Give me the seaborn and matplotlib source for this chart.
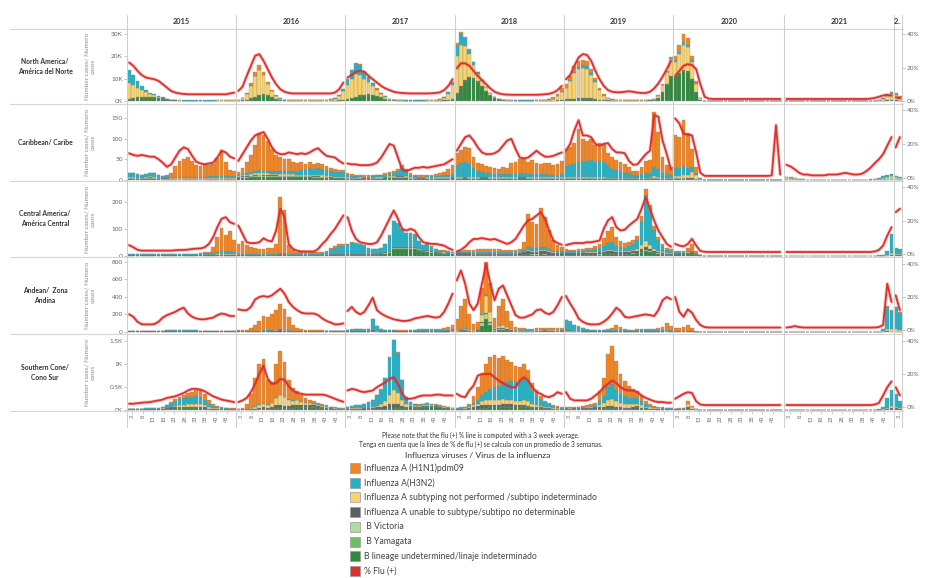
import numpy as np
import pandas as pd
import matplotlib
matplotlib.use("Agg")
import matplotlib.pyplot as plt
from matplotlib.lines import Line2D
from matplotlib.patches import Rectangle
import seaborn as sns

sns.set_style("white")
plt.rcParams["font.family"] = ["Lato", "DejaVu Sans"]

# ---------------------------------------------------------------- data
YEARS = [2015, 2016, 2017, 2018, 2019, 2020, 2021, 2022]
YEAR_LABELS = ["2015", "2016", "2017", "2018", "2019", "2020", "2021", "2.."]
WEEKS_IN_YEAR = [52, 52, 52, 52, 52, 53, 52, 4]
WEEK_TICKS = [3, 8, 13, 18, 23, 28, 33, 38, 43, 48]
WEEK_TICKS_2022 = [3]
# values are 2-week bins (weeks 1-2, 3-4, ... 51-52)

CATEGORIES = [
    "Influenza A (H1N1)pdm09",
    "Influenza A(H3N2)",
    "Influenza A subtyping not performed /subtipo indeterminado",
    "Influenza A unable to subtype/subtipo no determinable",
    " B Victoria",
    " B Yamagata",
    "B lineage undetermined/linaje indeterminado",
]
CAT_KEYS = ["h1", "h3", "ans", "aun", "bvic", "byam", "bund"]

# North America (thousands)
NA_H1N1 = {
    2016: [0, .1, .4, 1, 1.8, 2, 1.5, .8, .4, .2, .1, 0, 0,
           0, 0, 0, 0, 0, 0, 0, 0, 0, 0, 0, 0, 0],
    2017: [.2, .3, .3, .3, .2, .2, .1, .1, 0, 0, 0, 0, 0,
           0, 0, 0, 0, 0, 0, 0, 0, 0, 0, 0, 0, 0],
    2018: [1, .8, .5, .3, .2, .1, .1, 0, 0, 0, 0, 0, 0,
           0, 0, 0, 0, 0, 0, 0, 0, .1, .2, .5, .8, 1.5],
    2019: [1.5, 2, 2.3, 2.5, 2.3, 2, 1.5, 1, .6, .3, .15, .1, .05,
           0, 0, 0, 0, 0, 0, 0, 0, .1, .2, .3, .5, .8],
    2020: [2, 3, 3.5, 3, 2, 1, .2, 0, 0, 0, 0, 0, 0,
           0, 0, 0, 0, 0, 0, 0, 0, 0, 0, 0, 0, 0],
    2021: [0, 0, 0, 0, 0, 0, 0, 0, 0, 0, 0, 0, 0,
           0, 0, 0, 0, 0, 0, 0, 0, 0, 0, .1, .2, .3],
    2022: [.3, .2],
}
NA_H3N2 = {
    2015: [5.5, 4.2, 3, 1.8, 1, .5, .3, .2, .1, .1, .05, .05, .05,
           .05, .05, .05, .05, .05, .05, .05, .05, .05, .05, .05, .1, .1],
    2016: [.05, .1, .2, .3, .3, .3, .2, .1, .05, .05, .05, .05, .05,
           .05, .05, .05, .05, .05, .05, .05, .05, .05, .1, .2, .4, .8],
    2017: [2.5, 3.8, 4.5, 4.5, 3, 2, 1.2, .7, .4, .2, .1, .05, .05,
           .05, .05, .05, .05, .05, .05, .05, .05, .1, .2, .4, .8, 1.5],
    2018: [5, 5, 3.5, 2, 1, .6, .4, .3, .2, .1, .05, .05, .05,
           .05, .05, .05, .05, .05, .05, .05, .05, .05, .1, .1, .2, .3],
    2019: [.2, .3, .5, .8, 1, 1.2, 1, .8, .5, .3, .15, .1, .05,
           0, 0, 0, 0, 0, 0, 0, 0, 0, 0, .05, .05, .1],
    2020: [.8, 1, 1.2, 1, .7, .3, .1, 0, 0, 0, 0, 0, 0,
           0, 0, 0, 0, 0, 0, 0, 0, 0, 0, 0, 0, 0],
    2021: [0, 0, 0, 0, 0, 0, 0, 0, 0, 0, 0, 0, 0,
           0, 0, 0, 0, 0, 0, 0, 0, .05, .1, .2, .4, .6],
    2022: [.6, .4],
}
NA_ANS = {
    2015: [7, 5.8, 4.4, 3, 2, 1.3, .9, .5, .3, .2, .1, .1, .05,
           .05, .05, .05, .05, .05, .05, .05, .05, .1, .1, .15, .2, .3],
    2016: [.4, 1, 2.3, 5.5, 9, 11, 8.5, 5, 2.8, 1.3, .6, .3, .2,
           .15, .1, .1, .1, .1, .1, .1, .15, .2, .4, .8, 1.8, 3.8],
    2017: [6, 8.5, 10, 9, 7, 5.5, 4, 2.5, 1.5, .8, .4, .2, .1,
           .1, .05, .05, .05, .05, .05, .1, .1, .2, .4, 1, 2.5, 6],
    2018: [16.5, 18.5, 15, 10, 6, 3.5, 2.4, 1.5, .8, .4, .25, .15, .1,
           .1, .05, .05, .05, .05, .05, .1, .1, .2, .4, .8, 1.8, 3.5],
    2019: [5, 8, 11.5, 13, 13.5, 13, 10.5, 7.5, 4.2, 2, .9, .4, .2,
           .1, .1, .1, .1, .1, .1, .1, .2, .4, 1, 3, 5, 7.5],
    2020: [6, 8.5, 11, 10.5, 7.5, 3.5, .6, .1, 0, 0, 0, 0, 0,
           0, 0, 0, 0, 0, 0, 0, 0, 0, 0, 0, 0, 0],
    2021: [0, 0, 0, 0, 0, 0, 0, 0, 0, 0, 0, 0, 0,
           0, 0, 0, 0, 0, 0, 0, 0, .1, .3, .9, 2, 2.8],
    2022: [2.4, 1.3],
}
NA_AUN = {
    2015: [.5, .5, .4, .4, .3, .3, .3, .2, .2, .15, .1, .1, .1,
           .1, .1, .1, .1, .1, .1, .1, .1, .1, .1, .1, .1, .1],
    2016: [.1, .1, .1, .15, .2, .2, .2, .15, .1, .1, .1, .1, .1,
           .1, .1, .1, .1, .1, .1, .1, .1, .1, .1, .1, .1, .15],
    2017: [.2, .2, .2, .2, .2, .15, .15, .1, .1, .1, .1, .1, .1,
           .1, .1, .1, .1, .1, .1, .1, .1, .1, .1, .1, .15, .2],
    2018: [.5, .5, .4, .3, .2, .2, .1, .1, .1, .1, .1, .1, .1,
           .1, .1, .1, .1, .1, .1, .1, .1, .1, .1, .1, .1, .15],
    2019: [.3, .3, .3, .3, .3, .3, .2, .2, .1, .1, .1, .1, .1,
           .1, .1, .1, .1, .1, .1, .1, .1, .1, .1, .1, .2, .3],
    2020: [.3, .4, .5, .5, .4, .2, .05, 0, 0, 0, 0, 0, 0,
           0, 0, 0, 0, 0, 0, 0, 0, 0, 0, 0, 0, 0],
    2021: [0, 0, 0, 0, 0, 0, 0, 0, 0, 0, 0, 0, 0,
           0, 0, 0, 0, 0, 0, 0, 0, 0, .05, .05, .1, .1],
    2022: [.1, .1],
}
NA_BUND = {
    2015: [.6, .9, 1.2, 1.4, 1.5, 1.6, 1.5, 1.3, 1, .6, .4, .2, .1,
           .05, .05, .05, .05, .05, .05, .05, .05, .05, .05, .05, .1, .1],
    2016: [.1, .2, .5, 1.1, 1.8, 2.5, 2.7, 2.5, 1.7, .9, .4, .2, .1,
           .05, .05, .05, .05, .05, .05, .05, .05, .05, .1, .1, .2, .4],
    2017: [.8, 1.2, 1.8, 2.3, 2.6, 2.8, 2.6, 2.2, 1.6, 1, .5, .3, .1,
           .05, .05, .05, .05, .05, .05, .05, .05, .1, .1, .2, .4, .8],
    2018: [3, 6, 9, 10.5, 10, 8.5, 6.5, 4.5, 2.6, 1.3, .6, .3, .1,
           .05, .05, .05, .05, .05, .05, .05, .05, .05, .1, .1, .2, .3],
    2019: [.4, .6, .8, 1, 1, 1.1, 1, .8, .5, .3, .2, .1, .05,
           .05, .05, .05, .05, .05, .05, .1, .2, .5, 1.2, 4, 7.5, 11],
    2020: [11, 12, 13.5, 13, 9.5, 4, .6, .1, 0, 0, 0, 0, 0,
           0, 0, 0, 0, 0, 0, 0, 0, 0, 0, 0, 0, 0],
    2021: [0, 0, 0, 0, 0, 0, 0, 0, 0, 0, 0, 0, 0,
           0, 0, 0, 0, 0, 0, 0, 0, .05, .1, .1, .2, .3],
    2022: [.2, .1],
}
NA_PCT = {
    2015: [23, 21, 18, 15.5, 14, 13.5, 13, 12, 10, 8, 6, 5, 4.5,
           4.2, 4, 4, 4, 4, 4, 4, 4, 4, 4, 4, 4.5, 5],
    2016: [6, 8.5, 15, 21, 27, 28, 24, 19, 14, 10, 7, 5.5, 4.8,
           4.5, 4.5, 4.5, 4.5, 4.5, 4.5, 4.5, 4.5, 4.5, 4.5, 5, 7, 11],
    2017: [14, 15.5, 17.5, 18, 17.5, 15, 13, 11, 9, 7.5, 6.5, 5.5, 5,
           4.8, 4.6, 4.5, 4.5, 4.5, 4.5, 4.5, 4.6, 4.8, 5.2, 6.5, 9, 13],
    2018: [19.5, 22.5, 22.5, 21, 18, 15, 12.5, 10, 7.5, 5.5, 4.5, 4, 3.8,
           3.7, 3.7, 3.7, 3.7, 3.7, 3.7, 3.7, 3.8, 4, 4.3, 5, 6.5, 9],
    2019: [13, 15.5, 21, 26, 28, 27.5, 24, 18, 13, 9, 6.5, 5.5, 5.2,
           5.2, 5.5, 5.8, 5.5, 5, 4.8, 4.8, 5.5, 7.5, 10.5, 14.5, 19, 24],
    2020: [15, 18, 21, 22, 21.5, 19, 10, 2.5, 1.4, 1.2, 1.2, 1.2, 1.2,
           1.2, 1.2, 1.2, 1.2, 1.2, 1.2, 1.2, 1.2, 1.2, 1.2, 1.2, 1.2, 1.2],
    2021: [1.2, 1.2, 1.2, 1.2, 1.2, 1.2, 1.2, 1.2, 1.2, 1.2, 1.2, 1.2, 1.2,
           1.2, 1.2, 1.2, 1.2, 1.2, 1.2, 1.2, 1.4, 1.8, 2.5, 3.3, 3.6, 3.2],
    2022: [2.2, 1.6],
}

# Caribbean
CAR_H1N1 = {
    2015: [0, 0, 0, 0, 0, 0, 0, 0, 0, 2, 8, 25, 38,
           45, 48, 40, 30, 28, 30, 28, 30, 45, 65, 35, 15, 12],
    2016: [8, 15, 28, 40, 62, 90, 88, 72, 55, 40, 35, 30, 28,
           22, 20, 20, 15, 15, 12, 12, 10, 10, 8, 8, 6, 5],
    2017: [5, 5, 4, 3, 3, 3, 2, 2, 2, 3, 3, 4, 4,
           5, 5, 4, 3, 3, 3, 3, 4, 5, 6, 8, 14, 22],
    2018: [28, 32, 38, 40, 26, 20, 18, 17, 16, 14, 12, 16, 15,
           26, 30, 35, 33, 30, 33, 27, 25, 28, 28, 23, 26, 32],
    2019: [42, 44, 50, 82, 55, 48, 50, 40, 43, 43, 29, 27, 24,
           24, 22, 15, 10, 10, 17, 30, 33, 135, 88, 38, 23, 19],
    2020: [80, 75, 110, 85, 45, 15, 2, 0, 0, 0, 0, 0, 0,
           0, 0, 0, 0, 0, 0, 0, 0, 0, 0, 0, 0, 0],
}
CAR_H3N2 = {
    2015: [10, 9, 8, 7, 8, 9, 8, 6, 5, 5, 4, 4, 4,
           3, 3, 3, 3, 3, 4, 5, 5, 5, 5, 5, 6, 6],
    2016: [3, 3, 4, 5, 6, 7, 6, 6, 6, 7, 7, 8, 8,
           9, 9, 12, 13, 17, 16, 18, 17, 15, 13, 12, 11, 12],
    2017: [4, 4, 3, 3, 3, 3, 3, 4, 4, 5, 7, 8, 12,
           22, 12, 5, 4, 3, 3, 3, 3, 3, 3, 4, 5, 6],
    2018: [30, 35, 35, 32, 22, 15, 12, 10, 9, 8, 7, 8, 7,
           8, 8, 9, 9, 8, 8, 7, 7, 7, 6, 6, 6, 7],
    2019: [25, 28, 32, 35, 38, 40, 42, 38, 40, 38, 30, 22, 18,
           15, 12, 10, 7, 7, 8, 10, 10, 22, 20, 12, 8, 7],
    2020: [20, 20, 22, 18, 12, 5, 1, 0, 0, 0, 0, 0, 0,
           0, 0, 0, 0, 0, 0, 0, 0, 0, 0, 0, 0, 0],
    2021: [1, 1, 1, 0, 0, 0, 0, 0, 0, 0, 0, 0, 0,
           0, 0, 0, 0, 0, 0, 0, 1, 1, 2, 3, 4, 5],
    2022: [3, 3],
}
CAR_ANS = {
    2015: [1, 1, 1, 1, 1, 2, 2, 1, 1, 1, 1, 1, 1,
           1, 1, 1, 1, 1, 1, 1, 1, 1, 1, 1, 1, 1],
    2016: [2, 3, 4, 5, 6, 6, 5, 6, 4, 4, 4, 4, 4,
           4, 3, 3, 2, 3, 3, 3, 3, 2, 2, 2, 2, 2],
    2017: [1, 1, 1, 1, 1, 1, 1, 1, 1, 1, 1, 1, 1,
           1, 1, 1, 1, 1, 1, 1, 1, 1, 1, 1, 1, 1],
    2018: [1, 1, 1, 1, 1, 1, 1, 1, 1, 1, 1, 1, 1,
           1, 1, 1, 1, 1, 1, 1, 1, 1, 1, 1, 1, 1],
    2019: [2, 2, 2, 2, 2, 1, 1, 1, 1, 1, 1, 1, 1,
           1, 1, 1, 1, 1, 1, 1, 1, 3, 2, 1, 1, 1],
    2020: [5, 5, 8, 8, 15, 8, 1, 0, 0, 0, 0, 0, 0,
           0, 0, 0, 0, 0, 0, 0, 0, 0, 0, 0, 0, 0],
}
CAR_AUN = {
    2015: [1, 1, 1, 1, 1, 1, 1, 1, 1, 1, 1, 1, 1,
           1, 1, 1, 1, 1, 1, 1, 1, 1, 1, 1, 1, 1],
    2016: [1, 1, 1, 1, 1, 1, 1, 1, 1, 1, 1, 1, 1,
           1, 1, 1, 1, 1, 1, 1, 1, 1, 1, 1, 1, 1],
    2017: [1, 1, 1, 1, 1, 1, 1, 1, 1, 1, 1, 1, 1,
           1, 1, 1, 1, 1, 1, 1, 1, 1, 1, 1, 1, 1],
    2018: [1, 1, 1, 1, 1, 1, 1, 1, 1, 1, 1, 1, 1,
           1, 1, 1, 1, 1, 1, 1, 1, 1, 1, 1, 1, 1],
    2019: [1, 1, 1, 1, 1, 1, 1, 1, 1, 1, 1, 1, 1,
           1, 1, 1, 1, 1, 1, 1, 1, 1, 1, 1, 1, 1],
    2020: [1, 1, 1, 1, 1, 1, 0, 0, 0, 0, 0, 0, 0,
           0, 0, 0, 0, 0, 0, 0, 0, 0, 0, 0, 0, 0],
}
CAR_BVIC = {
    2015: [3, 3, 2, 2, 3, 4, 3, 2, 2, 2, 1, 1, 1,
           1, 1, 1, 1, 1, 1, 1, 1, 1, 1, 1, 1, 1],
    2016: [1, 2, 2, 2, 2, 3, 2, 2, 2, 2, 2, 2, 2,
           2, 2, 2, 2, 2, 2, 2, 2, 2, 1, 1, 1, 1],
    2017: [2, 1, 1, 2, 1, 1, 2, 2, 2, 2, 3, 3, 4,
           4, 3, 2, 2, 1, 1, 2, 1, 2, 2, 2, 2, 2],
    2018: [2, 2, 2, 2, 2, 2, 2, 2, 2, 2, 2, 2, 2,
           2, 2, 2, 2, 2, 2, 2, 2, 2, 2, 2, 2, 2],
    2019: [2, 2, 2, 2, 2, 2, 2, 2, 2, 2, 2, 2, 2,
           2, 2, 2, 2, 2, 2, 2, 2, 2, 2, 2, 2, 2],
    2020: [1, 1, 1, 1, 1, 1, 1, 0, 1, 0, 0, 1, 0,
           0, 1, 0, 0, 0, 1, 0, 0, 0, 1, 0, 0, 0],
    2021: [6, 5, 4, 3, 2, 1, 1, 1, 1, 1, 1, 1, 1,
           1, 1, 1, 1, 1, 1, 1, 1, 2, 3, 5, 7, 8],
    2022: [6, 4],
}
CAR_BUND = {
    2015: [2, 2, 2, 2, 2, 2, 2, 2, 1, 1, 1, 1, 1,
           1, 1, 1, 1, 1, 1, 1, 1, 1, 1, 1, 1, 1],
    2016: [5, 6, 6, 7, 8, 8, 8, 8, 8, 8, 7, 7, 7,
           7, 7, 7, 7, 7, 6, 6, 5, 5, 5, 4, 4, 4],
    2017: [3, 3, 3, 3, 2, 2, 2, 3, 3, 4, 4, 4, 4,
           4, 4, 3, 2, 2, 2, 3, 3, 3, 3, 3, 3, 4],
    2018: [3, 3, 4, 3, 3, 3, 4, 4, 3, 3, 3, 3, 3,
           3, 3, 4, 4, 3, 3, 3, 3, 3, 3, 3, 3, 3],
    2019: [3, 3, 3, 3, 3, 3, 3, 3, 3, 3, 2, 2, 2,
           2, 2, 2, 2, 2, 2, 2, 2, 3, 3, 2, 2, 2],
    2020: [3, 3, 3, 2, 2, 1, 1, 0, 0, 0, 0, 0, 0,
           0, 0, 0, 0, 0, 0, 0, 0, 0, 0, 0, 0, 0],
    2021: [1, 1, 1, 0, 0, 0, 0, 0, 0, 0, 0, 0, 0,
           0, 0, 0, 0, 0, 0, 0, 0, 0, 0, 1, 1, 1],
    2022: [1, 1],
}
CAR_PCT = {
    2015: [14.5, 13.5, 13, 13.5, 13, 12.5, 12.5, 11, 9, 6.5, 8, 12, 16,
           18, 17, 13, 9.5, 8.5, 8, 8.5, 9, 12, 16, 15, 12.5, 11.5],
    2016: [10, 14, 18, 22, 25, 26, 27, 23, 18, 15, 14, 14, 15,
           14.5, 14, 14.5, 14, 15, 16.5, 17.5, 15, 13, 12.5, 12, 10, 8.5],
    2017: [8.5, 8, 8, 7.5, 7.5, 7.5, 8, 9, 12, 16, 20, 19, 12,
           5, 4, 5, 6, 6, 6.5, 6, 6.5, 7, 7.5, 8, 9.5, 11],
    2018: [16, 20, 24, 25, 22, 18, 15, 14, 14, 14.5, 16, 19, 22,
           23, 17, 12, 11.5, 12, 14, 16, 14, 12.5, 12.5, 13, 14, 15],
    2019: [16, 20, 28, 34, 25, 25, 24, 20, 19, 20, 20.5, 17, 15,
           15, 14.5, 10, 7.7, 8, 11, 14, 16, 37, 36, 22, 14, 5],
    2020: [35, 32, 26, 25.5, 25, 15, 3, 1.2, 1.2, 1.2, 1.2, 1.2, 1.2,
           1.2, 1.2, 1.2, 1.2, 1.2, 1.2, 1.2, 1.2, 1.2, 1.2, 1.5, 31, 2],
    2021: [7.7, 6.7, 5, 3, 2, 2, 1.5, 1.5, 1.5, 1.5, 2, 2, 2,
           2.5, 3, 2.5, 2, 2, 2.5, 4, 6, 8.6, 11, 14, 19, 24],
    2022: [18, 24],
}

# Central America
CEN_H1N1 = {
    2015: [0, 0, 0, 0, 0, 0, 0, 0, 0, 0, 0, 0, 0,
           0, 0, 0, 0, 0, 2, 5, 20, 55, 85, 62, 75, 45],
    2016: [38, 48, 33, 28, 24, 20, 20, 22, 24, 38, 205, 160, 33,
           14, 8, 6, 5, 5, 5, 5, 5, 5, 6, 6, 7, 8],
    2017: [3, 2, 2, 2, 2, 1, 1, 1, 2, 2, 2, 2, 2,
           2, 2, 2, 2, 1, 1, 1, 1, 1, 1, 1, 1, 1],
    2018: [5, 5, 6, 8, 10, 12, 14, 12, 12, 12, 12, 10, 10,
           10, 10, 12, 30, 120, 95, 90, 145, 110, 70, 40, 22, 18],
    2019: [5, 4, 4, 5, 5, 6, 7, 10, 15, 27, 45, 55, 33,
           22, 18, 16, 15, 15, 20, 25, 20, 14, 10, 8, 6, 5],
    2020: [5, 4, 5, 12, 25, 10, 2, 0, 0, 0, 0, 0, 0,
           0, 0, 0, 0, 0, 0, 0, 0, 0, 0, 0, 0, 0],
}
CEN_H3N2 = {
    2015: [4, 4, 4, 4, 3, 3, 3, 3, 3, 4, 4, 4, 5,
           5, 5, 6, 6, 7, 7, 7, 7, 10, 12, 10, 12, 10],
    2016: [3, 3, 3, 3, 3, 2, 2, 2, 2, 3, 4, 4, 3,
           3, 3, 3, 3, 3, 3, 4, 6, 10, 18, 23, 30, 30],
    2017: [35, 40, 38, 35, 30, 22, 17, 16, 18, 30, 55, 95, 85,
           65, 50, 50, 45, 30, 22, 22, 15, 10, 8, 7, 6, 5],
    2018: [5, 5, 5, 5, 4, 4, 4, 4, 4, 4, 4, 4, 4,
           4, 4, 5, 8, 12, 10, 10, 10, 10, 8, 6, 5, 5],
    2019: [8, 7, 7, 8, 8, 9, 10, 12, 15, 20, 25, 30, 20,
           16, 14, 16, 22, 35, 90, 170, 130, 70, 40, 22, 14, 10],
    2020: [3, 2, 3, 3, 3, 2, 0, 0, 0, 0, 0, 0, 0,
           0, 0, 0, 0, 0, 0, 0, 0, 0, 0, 0, 0, 0],
    2021: [0, 0, 0, 0, 0, 0, 0, 0, 0, 0, 0, 0, 0,
           0, 0, 0, 0, 0, 0, 0, 0, 0, 1, 4, 16, 70],
    2022: [22, 18],
}
CEN_ANS = {
    2015: [0, 0, 0, 0, 0, 0, 0, 0, 0, 0, 0, 0, 0,
           0, 0, 0, 0, 0, 1, 1, 2, 2, 2, 2, 2, 2],
    2016: [1, 1, 1, 1, 1, 1, 1, 1, 1, 1, 2, 2, 1,
           1, 1, 1, 1, 1, 1, 1, 1, 1, 1, 1, 1, 1],
    2017: [1, 1, 1, 1, 1, 1, 1, 1, 1, 1, 1, 1, 1,
           1, 1, 1, 1, 1, 1, 1, 1, 1, 1, 1, 1, 1],
    2018: [0, 0, 0, 0, 0, 0, 0, 0, 0, 0, 0, 0, 0,
           0, 0, 0, 2, 4, 4, 3, 5, 5, 4, 3, 2, 2],
    2019: [1, 1, 1, 1, 1, 1, 1, 2, 2, 3, 4, 4, 3,
           3, 3, 4, 5, 8, 15, 20, 15, 8, 5, 3, 2, 2],
    2020: [2, 2, 2, 3, 2, 1, 1, 0, 0, 0, 0, 0, 0,
           0, 0, 0, 0, 0, 0, 0, 0, 0, 0, 0, 0, 0],
    2021: [0, 0, 0, 0, 0, 0, 0, 0, 0, 0, 0, 0, 0,
           0, 0, 0, 0, 0, 0, 0, 0, 0, 1, 1, 3, 8],
    2022: [6, 5],
}
CEN_AUN = {
    2015: [3, 3, 2, 2, 2, 2, 2, 2, 2, 2, 2, 2, 2,
           2, 2, 2, 2, 2, 2, 2, 2, 3, 4, 4, 4, 3],
    2016: [2, 2, 2, 2, 2, 2, 2, 2, 2, 2, 3, 3, 2,
           2, 2, 2, 2, 2, 2, 2, 2, 2, 3, 3, 3, 3],
    2017: [3, 3, 3, 3, 3, 3, 3, 3, 3, 3, 4, 5, 5,
           5, 5, 5, 5, 4, 3, 4, 4, 3, 2, 2, 2, 2],
    2018: [6, 6, 6, 6, 5, 5, 5, 5, 5, 5, 5, 5, 5,
           5, 5, 6, 8, 12, 10, 10, 12, 12, 8, 6, 5, 5],
    2019: [6, 6, 6, 6, 6, 7, 7, 7, 7, 8, 10, 9, 7,
           7, 6, 7, 8, 6, 9, 12, 8, 6, 5, 5, 4, 4],
    2020: [4, 4, 4, 5, 5, 3, 1, 0, 0, 0, 0, 0, 0,
           0, 0, 0, 0, 0, 0, 0, 0, 0, 0, 0, 0, 0],
}
CEN_BVIC = {
    2017: [1, 1, 1, 1, 1, 1, 1, 1, 1, 2, 2, 3, 3,
           3, 3, 3, 3, 2, 1, 3, 3, 1, 1, 2, 2, 1],
    2018: [1, 1, 1, 1, 1, 1, 1, 1, 1, 1, 1, 1, 1,
           1, 1, 1, 1, 1, 1, 1, 1, 1, 1, 1, 1, 1],
    2019: [2, 1, 1, 2, 2, 2, 2, 1, 1, 1, 1, 1, 1,
           1, 2, 2, 2, 1, 1, 3, 2, 2, 2, 1, 0, 1],
}
CEN_BUND = {
    2015: [1, 1, 1, 1, 1, 1, 1, 1, 1, 1, 1, 1, 1,
           1, 1, 1, 1, 1, 1, 1, 1, 1, 1, 1, 1, 1],
    2016: [1, 1, 1, 1, 1, 1, 1, 2, 2, 2, 3, 3, 2,
           2, 2, 2, 2, 2, 2, 2, 2, 2, 3, 3, 4, 4],
    2017: [3, 4, 4, 4, 4, 3, 3, 4, 6, 8, 12, 25, 25,
           25, 25, 25, 25, 18, 13, 15, 12, 10, 8, 8, 7, 6],
    2018: [3, 3, 3, 3, 3, 3, 3, 3, 3, 3, 3, 3, 3,
           3, 3, 3, 4, 6, 5, 5, 6, 5, 4, 4, 4, 4],
    2019: [3, 3, 3, 3, 3, 3, 3, 4, 5, 6, 8, 8, 6,
           6, 6, 7, 8, 10, 15, 20, 15, 10, 8, 6, 4, 3],
    2020: [6, 6, 6, 7, 8, 4, 1, 0, 0, 0, 0, 0, 0,
           0, 0, 0, 0, 0, 0, 0, 0, 0, 0, 0, 0, 0],
    2021: [0, 0, 0, 0, 0, 0, 0, 0, 0, 0, 0, 0, 0,
           0, 0, 0, 0, 0, 0, 0, 0, 0, 0, 0, 1, 2],
    2022: [2, 2],
}
CEN_PCT = {
    2015: [5.3, 4, 2.5, 2, 2, 2, 2, 2, 2, 2, 2, 2.2, 2.4,
           2.4, 2.6, 3, 3.2, 3.3, 4, 6, 10, 16, 21, 22, 19, 18],
    2016: [17, 12, 7, 6.5, 6.5, 7, 9.4, 8, 7.5, 14, 27, 22, 6,
           3, 2, 1.5, 1.5, 1.5, 1.5, 3, 6, 8.5, 12, 15, 19, 23],
    2017: [22, 14, 9, 7, 6.5, 6, 6, 7, 11, 16, 21, 26, 21,
           15, 14, 15, 14, 10, 7, 6.5, 6, 6, 5.5, 5, 3.5, 2.4],
    2018: [1.5, 2.5, 4.3, 7, 9, 9, 9.5, 9, 8.5, 9, 8, 7, 6,
           7, 9, 13, 17, 20, 21, 23, 25, 21, 14, 8, 6.5, 5.5],
    2019: [5.3, 6, 6.5, 6.5, 6.5, 7, 7, 7.5, 8, 15, 20, 22, 16,
           14, 14.5, 17, 19, 21, 27, 34, 27, 20, 14, 10, 6, 4.3],
    2020: [6, 5, 4.5, 6, 9, 5, 1.8, 1.3, 1.2, 1.2, 1.2, 1.2, 1.2,
           1.2, 1.2, 1.2, 1.2, 1.2, 1.2, 1.2, 1.2, 1.2, 1.2, 1.2, 1.2, 1.2],
    2021: [1.2, 1.2, 1.2, 1.2, 1.2, 1.2, 1.2, 1.2, 1.2, 1.2, 1.2, 1.2, 1.2,
           1.2, 1.2, 1.2, 1.2, 1.2, 1.2, 1.2, 1.2, 1.5, 2.4, 5, 11, 16],
    2022: [25, 27],
}

# Andean
AND_H1N1 = {
    2015: [1, 1, 1, 1, 1, 1, 1, 1, 1, 1, 1, 1, 1,
           1, 1, 1, 1, 1, 1, 1, 1, 1, 1, 1, 1, 1],
    2016: [8, 10, 14, 28, 68, 105, 160, 150, 178, 225, 290, 235, 150,
           65, 28, 18, 12, 8, 7, 6, 5, 4, 4, 4, 4, 4],
    2017: [2, 2, 3, 3, 2, 2, 5, 3, 3, 2, 2, 2, 2,
           2, 3, 4, 5, 6, 8, 8, 6, 6, 9, 13, 28, 48],
    2018: [130, 270, 340, 175, 70, 80, 300, 380, 330, 110, 230, 300, 180,
           85, 35, 25, 20, 15, 15, 18, 20, 22, 20, 18, 18, 20],
    2019: [5, 5, 5, 5, 4, 3, 3, 3, 5, 5, 10, 22, 55,
           38, 16, 10, 8, 10, 14, 14, 12, 12, 22, 40, 75, 45],
    2020: [25, 35, 45, 65, 30, 5, 0, 0, 0, 0, 0, 0, 0,
           0, 0, 0, 0, 0, 0, 0, 0, 0, 0, 0, 0, 0],
    2021: [0, 0, 0, 0, 0, 0, 0, 0, 0, 0, 0, 0, 0,
           0, 0, 0, 0, 0, 0, 0, 0, 0, 0, 2, 12, 10],
    2022: [10, 8],
}
AND_H3N2 = {
    2015: [5, 5, 4, 4, 4, 5, 5, 6, 8, 10, 12, 14, 15,
           14, 13, 12, 10, 8, 7, 6, 6, 7, 7, 6, 6, 5],
    2016: [4, 4, 4, 4, 4, 5, 6, 6, 6, 7, 8, 7, 6,
           5, 4, 4, 4, 4, 4, 5, 5, 4, 4, 4, 4, 4],
    2017: [12, 15, 18, 18, 15, 20, 120, 50, 20, 12, 10, 8, 6,
           6, 6, 7, 8, 10, 12, 12, 10, 10, 10, 10, 10, 12],
    2018: [2, 2, 4, 2, 2, 2, 5, 5, 3, 4, 5, 5, 4,
           4, 5, 3, 4, 4, 4, 4, 4, 5, 4, 3, 3, 4],
    2019: [115, 95, 60, 45, 28, 15, 10, 8, 8, 8, 8, 10, 10,
           8, 6, 5, 5, 6, 8, 8, 6, 6, 6, 8, 10, 8],
    2020: [4, 4, 4, 4, 3, 1, 0, 0, 0, 0, 0, 0, 0,
           0, 0, 0, 0, 0, 0, 0, 0, 0, 0, 0, 0, 0],
    2021: [0, 0, 0, 0, 0, 0, 0, 0, 0, 0, 0, 0, 0,
           0, 0, 0, 0, 0, 0, 0, 0, 0, 3, 30, 250, 210],
    2022: [250, 190],
}
AND_ANS = {
    2016: [1, 1, 1, 1, 1, 1, 2, 2, 3, 3, 4, 3, 2,
           2, 1, 1, 1, 1, 1, 1, 1, 1, 1, 1, 1, 1],
    2018: [5, 10, 12, 8, 5, 8, 80, 200, 110, 15, 25, 30, 20,
           10, 5, 4, 3, 3, 3, 3, 4, 4, 4, 3, 3, 3],
    2019: [2, 2, 1, 1, 1, 1, 1, 1, 1, 1, 1, 1, 1,
           1, 1, 1, 1, 1, 1, 1, 1, 1, 1, 1, 1, 1],
    2020: [2, 2, 2, 2, 1, 1, 0, 0, 0, 0, 0, 0, 0,
           0, 0, 0, 0, 0, 0, 0, 0, 0, 0, 0, 0, 0],
    2021: [0, 0, 0, 0, 0, 0, 0, 0, 0, 0, 0, 0, 0,
           0, 0, 0, 0, 0, 0, 0, 0, 0, 1, 5, 30, 25],
    2022: [25, 20],
}
AND_AUN = {
    2015: [6, 6, 5, 5, 5, 5, 5, 5, 6, 6, 7, 8, 8,
           8, 7, 7, 6, 6, 6, 6, 6, 6, 6, 6, 6, 6],
    2016: [5, 5, 5, 5, 6, 7, 9, 9, 10, 11, 13, 11, 9,
           6, 5, 5, 5, 5, 5, 5, 5, 5, 5, 5, 5, 5],
    2017: [8, 9, 10, 10, 9, 9, 15, 10, 8, 7, 7, 7, 7,
           7, 8, 8, 9, 10, 11, 11, 10, 10, 11, 12, 12, 14],
    2018: [6, 7, 10, 5, 5, 5, 15, 15, 12, 8, 10, 10, 8,
           6, 6, 5, 5, 5, 5, 6, 7, 7, 6, 6, 6, 7],
    2019: [10, 10, 8, 8, 7, 7, 7, 6, 7, 7, 7, 8, 9,
           8, 7, 7, 7, 8, 8, 8, 7, 7, 7, 7, 8, 7],
    2020: [6, 6, 6, 6, 4, 2, 0, 0, 0, 0, 0, 0, 0,
           0, 0, 0, 0, 0, 0, 0, 0, 0, 0, 0, 0, 0],
    2021: [0, 0, 0, 0, 0, 0, 0, 0, 0, 0, 0, 0, 0,
           0, 0, 0, 0, 0, 0, 0, 0, 0, 0, 2, 6, 5],
    2022: [5, 5],
}
AND_BVIC = {
    2017: [1, 1, 1, 1, 1, 1, 3, 2, 1, 1, 1, 1, 1,
           1, 1, 1, 1, 1, 1, 1, 1, 1, 1, 1, 1, 1],
    2018: [2, 3, 4, 3, 3, 5, 30, 50, 25, 8, 10, 10, 8,
           5, 3, 3, 3, 3, 3, 3, 3, 4, 4, 4, 4, 4],
    2019: [3, 3, 2, 2, 2, 1, 1, 1, 1, 1, 1, 1, 1,
           1, 1, 1, 1, 1, 1, 1, 1, 1, 1, 1, 2, 1],
}
AND_BUND = {
    2015: [2, 2, 2, 2, 2, 2, 2, 2, 2, 2, 2, 2, 2,
           2, 2, 2, 2, 2, 2, 2, 2, 2, 2, 2, 2, 2],
    2016: [2, 2, 1, 2, 2, 2, 3, 3, 3, 4, 5, 4, 3,
           2, 2, 2, 2, 2, 2, 2, 2, 1, 1, 1, 1, 1],
    2017: [2, 3, 3, 3, 3, 3, 7, 5, 3, 3, 2, 2, 2,
           2, 2, 2, 2, 3, 3, 3, 3, 3, 4, 4, 4, 5],
    2018: [5, 8, 10, 7, 5, 10, 70, 150, 80, 15, 20, 25, 20,
           10, 6, 5, 5, 5, 5, 6, 7, 8, 7, 6, 6, 7],
    2019: [5, 5, 4, 4, 3, 3, 3, 3, 3, 3, 3, 3, 4,
           4, 4, 4, 3, 4, 3, 3, 3, 3, 3, 3, 4, 3],
    2020: [3, 3, 3, 3, 2, 1, 0, 0, 0, 0, 0, 0, 0,
           0, 0, 0, 0, 0, 0, 0, 0, 0, 0, 0, 0, 0],
}
AND_PCT = {
    2015: [9.5, 8, 5, 3.5, 3.4, 3.4, 3.6, 5, 7.5, 9, 10, 11, 12.5,
           13.5, 10, 8, 7, 6.5, 6.5, 7, 7.5, 9, 10, 9.5, 8.5, 8.5],
    2016: [12.5, 12, 12, 14, 18.5, 20, 20.6, 20, 21, 23, 25, 22, 17,
           14, 12, 10.5, 10, 10, 10, 9, 7, 5.5, 4.5, 3.4, 3.5, 4],
    2017: [11.5, 14, 11, 9.5, 11, 15, 19.6, 12, 10, 8.5, 7.5, 6.5, 6,
           5.5, 5.5, 6, 7, 7.5, 8, 8.5, 8, 7.5, 8, 11, 16, 22],
    2018: [30, 36, 28, 16, 12, 16, 28, 40, 28, 18, 25, 27, 21,
           15, 9, 7.5, 7.5, 8.5, 9.5, 12, 12.5, 10.5, 9.5, 11, 15, 20],
    2019: [20.6, 16, 12, 7, 5, 3.8, 3.4, 3.4, 3.6, 5, 7, 10, 13.5,
           11.5, 8, 7.5, 8, 8.5, 9, 9.5, 9, 8.5, 12, 18, 20, 18.6],
    2020: [20, 11, 8, 12.5, 10.5, 6, 3, 1.8, 1.5, 1.5, 1.5, 1.5, 1.5,
           1.5, 1.5, 1.5, 1.5, 1.5, 1.5, 1.5, 1.5, 1.5, 1.5, 1.5, 1.5, 1.5],
    2021: [1.5, 1.8, 2.4, 1.8, 1.5, 1.5, 1.5, 1.5, 1.5, 1.5, 1.5, 1.5, 1.5,
           1.5, 1.5, 1.5, 1.5, 1.5, 1.5, 1.5, 1.5, 1.5, 1.8, 3, 28, 17],
    2022: [21, 12],
}

# Southern Cone
SOU_H1N1 = {
    2015: [2, 2, 2, 2, 2, 3, 3, 4, 6, 12, 25, 40, 55,
           70, 90, 110, 140, 160, 140, 90, 50, 30, 18, 12, 8, 6],
    2016: [15, 25, 90, 300, 620, 880, 950, 530, 440, 720, 950, 760, 420,
           270, 200, 130, 90, 65, 50, 40, 30, 22, 18, 14, 10, 8],
    2017: [2, 2, 2, 2, 3, 3, 4, 5, 6, 8, 10, 12, 10,
           8, 6, 5, 5, 5, 6, 6, 6, 6, 6, 5, 4, 4],
    2018: [10, 12, 15, 40, 150, 280, 460, 610, 700, 700, 600, 580, 480,
           420, 350, 300, 290, 230, 150, 100, 60, 35, 25, 15, 10, 8],
    2019: [10, 10, 12, 15, 25, 35, 45, 60, 220, 400, 720, 820, 620,
           430, 330, 250, 200, 160, 110, 70, 40, 25, 18, 12, 10, 8],
    2020: [5, 6, 10, 60, 25, 6, 1, 0, 0, 0, 0, 0, 0,
           0, 0, 0, 0, 0, 0, 0, 0, 0, 0, 0, 0, 0],
}
SOU_H3N2 = {
    2015: [8, 8, 10, 10, 12, 14, 14, 18, 30, 50, 80, 110, 130,
           150, 160, 170, 170, 150, 110, 70, 40, 25, 18, 12, 10, 8],
    2016: [3, 4, 5, 8, 10, 12, 14, 10, 10, 12, 15, 15, 12,
           12, 12, 12, 12, 12, 12, 10, 10, 8, 7, 6, 5, 5],
    2017: [40, 55, 62, 70, 85, 115, 150, 230, 320, 500, 820, 1080, 870,
           430, 150, 70, 40, 35, 35, 35, 30, 25, 20, 15, 12, 10],
    2018: [15, 18, 20, 25, 50, 80, 130, 180, 230, 280, 310, 360, 380,
           400, 410, 440, 480, 440, 300, 220, 150, 100, 70, 50, 35, 25],
    2019: [10, 9, 10, 12, 15, 18, 22, 30, 80, 150, 280, 330, 260,
           200, 170, 150, 130, 120, 90, 55, 35, 25, 18, 15, 12, 10],
    2020: [3, 4, 5, 15, 8, 2, 1, 0, 0, 0, 0, 0, 0,
           0, 0, 0, 0, 0, 0, 0, 0, 0, 0, 0, 0, 0],
    2021: [0, 0, 0, 0, 0, 0, 0, 0, 0, 0, 0, 0, 0,
           0, 0, 0, 0, 0, 0, 0, 0, 0, 10, 45, 215, 360],
    2022: [270, 160],
}
SOU_ANS = {
    2015: [2, 2, 2, 2, 3, 3, 3, 4, 6, 10, 20, 30, 40,
           45, 50, 50, 55, 55, 45, 30, 15, 10, 8, 6, 5, 4],
    2016: [3, 5, 12, 25, 40, 60, 80, 60, 80, 150, 200, 180, 130,
           100, 90, 70, 55, 45, 40, 32, 25, 20, 15, 12, 10, 8],
    2017: [5, 6, 7, 8, 9, 12, 18, 35, 55, 100, 200, 300, 250,
           130, 50, 25, 15, 12, 12, 12, 10, 10, 8, 7, 5, 4],
    2018: [5, 5, 6, 10, 30, 50, 80, 100, 110, 110, 100, 110, 100,
           100, 100, 100, 110, 100, 70, 50, 35, 25, 20, 15, 10, 8],
    2019: [5, 5, 5, 6, 8, 10, 12, 15, 50, 80, 130, 150, 120,
           90, 80, 70, 65, 60, 50, 35, 25, 18, 15, 12, 10, 8],
    2020: [5, 6, 8, 60, 30, 8, 2, 0, 0, 0, 0, 0, 0,
           0, 0, 0, 0, 0, 0, 0, 0, 0, 0, 0, 0, 0],
    2021: [0, 0, 0, 0, 0, 0, 0, 0, 0, 0, 0, 0, 0,
           0, 0, 0, 0, 0, 0, 0, 0, 0, 1, 5, 20, 35],
    2022: [30, 15],
}
SOU_AUN = {
    2015: [10, 10, 12, 12, 13, 14, 14, 16, 18, 20, 25, 28, 30,
           30, 30, 30, 30, 30, 25, 18, 15, 15, 12, 12, 10, 10],
    2016: [6, 7, 8, 10, 20, 33, 36, 32, 45, 78, 65, 45, 43,
           48, 48, 43, 43, 43, 43, 28, 20, 15, 10, 8, 5, 5],
    2017: [18, 20, 21, 21, 23, 28, 33, 42, 47, 62, 80, 88, 70,
           37, 29, 25, 20, 18, 22, 22, 19, 14, 11, 8, 5, 5],
    2018: [12, 15, 17, 30, 45, 60, 70, 60, 55, 55, 55, 60, 60,
           60, 40, 40, 45, 35, 20, 20, 20, 12, 10, 10, 9, 7],
    2019: [20, 18, 19, 22, 24, 27, 29, 30, 33, 35, 40, 50, 30,
           25, 22, 22, 25, 25, 19, 14, 12, 10, 9, 8, 8, 7],
    2020: [10, 11, 12, 35, 15, 5, 1, 0, 0, 0, 0, 0, 0,
           0, 0, 0, 0, 0, 0, 0, 0, 0, 0, 0, 0, 0],
    2021: [0, 0, 0, 0, 0, 0, 0, 0, 0, 0, 0, 0, 0,
           0, 0, 0, 0, 0, 0, 0, 0, 0, 2, 5, 15, 25],
    2022: [20, 12],
}
SOU_BUND = {
    2015: [3, 3, 4, 4, 5, 6, 6, 8, 10, 18, 30, 32, 35,
           35, 40, 40, 45, 45, 30, 12, 10, 10, 9, 8, 7, 7],
    2016: [3, 4, 5, 7, 10, 15, 20, 18, 25, 40, 50, 50, 45,
           50, 70, 65, 60, 55, 55, 50, 45, 35, 25, 20, 15, 14],
    2017: [5, 7, 8, 9, 10, 12, 15, 18, 22, 30, 40, 50, 50,
           45, 45, 55, 50, 50, 65, 75, 75, 65, 55, 45, 34, 27],
    2018: [8, 10, 12, 15, 25, 30, 40, 50, 55, 55, 55, 60, 60,
           60, 60, 60, 65, 55, 40, 40, 35, 28, 25, 20, 16, 12],
    2019: [15, 13, 14, 15, 18, 20, 22, 25, 30, 35, 40, 40, 35,
           30, 28, 28, 30, 55, 35, 22, 18, 12, 10, 8, 10, 12],
    2020: [7, 8, 10, 30, 12, 4, 1, 0, 0, 0, 0, 0, 0,
           0, 0, 0, 0, 0, 0, 0, 0, 0, 0, 0, 0, 0],
    2021: [0, 0, 0, 0, 0, 0, 0, 0, 0, 0, 0, 0, 0,
           0, 0, 0, 0, 0, 0, 0, 0, 0, 2, 5, 15, 20],
    2022: [20, 13],
}
SOU_PCT = {
    2015: [2, 2, 2.3, 2.6, 2.8, 3, 3.5, 4, 4.5, 5.5, 6, 6.5, 7.5,
           8.5, 10, 11, 11, 10.5, 9.5, 8, 6.5, 5.5, 4.5, 4, 3.5, 3],
    2016: [3, 4, 5.5, 9, 14, 20, 25, 17, 14, 14.5, 17, 16.5, 12.5,
           10, 8.5, 8, 7.5, 7.5, 7.5, 7.5, 7.5, 7, 6, 5, 4, 3.2],
    2017: [10, 11, 10.5, 9.5, 9, 9.5, 10, 12, 13.5, 15, 17, 18, 14,
           8, 5, 5, 5.5, 6.5, 7, 7, 7, 7.5, 7.5, 7, 7, 7],
    2018: [8, 6.5, 6, 10, 13, 19, 20, 20, 20, 18, 16, 14.5, 13,
           12, 12, 16, 18, 16, 12, 9, 8, 6.5, 6, 7, 9, 8],
    2019: [9, 5, 4, 4, 4, 4, 5, 7, 9, 12, 14, 16, 14.5,
           12, 10.5, 10, 10, 9, 7, 5.5, 4.5, 3.5, 3, 3, 2.6, 2.6],
    2020: [5, 6.5, 8, 9, 8.5, 3.5, 1.5, 1.2, 1.2, 1.2, 1.2, 1.2, 1.2,
           1.2, 1.2, 1.2, 1.2, 1.2, 1.2, 1.2, 1.2, 1.2, 1.2, 1.2, 1.2, 1.2],
    2021: [1.2, 1.2, 1.2, 1.2, 1.2, 1.2, 1.2, 1.2, 1.2, 1.2, 1.2, 1.2, 1.2,
           1.2, 1.2, 1.2, 1.2, 1.2, 1.2, 1.2, 1.2, 1.5, 2.5, 7, 12, 15.5],
    2022: [12, 7],
}

REGION_NAMES = ["North America/\nAmérica del Norte", "Caribbean/ Caribe",
                "Central America/\nAmérica Central", "Andean/  Zona\nAndina",
                "Southern Cone/\nCono Sur"]
REGION_SERIES = [
    {"h1": NA_H1N1, "h3": NA_H3N2, "ans": NA_ANS, "aun": NA_AUN, "bund": NA_BUND},
    {"h1": CAR_H1N1, "h3": CAR_H3N2, "ans": CAR_ANS, "aun": CAR_AUN,
     "bvic": CAR_BVIC, "bund": CAR_BUND},
    {"h1": CEN_H1N1, "h3": CEN_H3N2, "ans": CEN_ANS, "aun": CEN_AUN,
     "bvic": CEN_BVIC, "bund": CEN_BUND},
    {"h1": AND_H1N1, "h3": AND_H3N2, "ans": AND_ANS, "aun": AND_AUN,
     "bvic": AND_BVIC, "bund": AND_BUND},
    {"h1": SOU_H1N1, "h3": SOU_H3N2, "ans": SOU_ANS, "aun": SOU_AUN, "bund": SOU_BUND},
]
REGION_PCT = [NA_PCT, CAR_PCT, CEN_PCT, AND_PCT, SOU_PCT]
COUNT_TICKS = [[0, 10, 20, 30], [0, 50, 100, 150], [0, 100, 200],
               [0, 200, 400, 600, 800], [0, 500, 1000, 1500]]
COUNT_TICK_LABELS = [["0K", "10K", "20K", "30K"], ["0", "50", "100", "150"],
                     ["0", "100", "200"], ["0", "200", "400", "600", "800"],
                     ["0K", "0.5K", "1K", "1.5K"]]
PCT_TICKS = [0, 20, 40]
PCT_TICK_LABELS = ["0%", "20%", "40%"]

# ---------------------------------------------------------------- style / layout
COLORS = {"h1": "#F5841F", "h3": "#22B3C7", "ans": "#F9D46E", "aun": "#5B5F66",
          "bvic": "#AEDD9C", "byam": "#6FBE66", "bund": "#2F8A3E"}
RED = "#E0302D"
STACK_ORDER = ["bund", "byam", "bvic", "aun", "ans", "h3", "h1"]
COUNT_LIMS = [(-1.33, 32), (-2.4, 185), (-3.7, 278), (-23, 857), (-22, 1652)]
PCT_LIMS = [(-1.8, 43), (-1.8, 43.5), (-1.8, 43.6), (-2.4, 44.2), (-2.4, 44.2)]

W, H = 938, 578
PX0, PX1 = 127, 902
ROW_EDGES = [29, 104, 181, 257, 334, 411]

def fx(px):
    return px / W

def fy(py):
    return 1 - py / H

offsets = np.concatenate([[0], np.cumsum(WEEKS_IN_YEAR)[:-1]])
total_weeks = int(np.sum(WEEKS_IN_YEAR))

def wx(week_pos):
    return PX0 + week_pos / total_weeks * (PX1 - PX0)

fig = plt.figure(figsize=(W / 100, H / 100), dpi=100)
fig.patch.set_facecolor("white")

TXT = "#333333"
TICKC = "#666666"

for r in range(5):
    top, bot = ROW_EDGES[r], ROW_EDGES[r + 1]
    ax = fig.add_axes([fx(PX0), fy(bot), fx(PX1) - fx(PX0), (bot - top) / H])
    ax.set_xlim(0, total_weeks)
    ax.set_ylim(*COUNT_LIMS[r])
    series = REGION_SERIES[r]
    bottoms = {y: np.zeros(26) for y in YEARS}
    for key in STACK_ORDER:
        data = series.get(key)
        if not data:
            continue
        for yi, yr in enumerate(YEARS):
            vals = data.get(yr)
            if vals is None:
                continue
            vals = np.asarray(vals[:26], dtype=float)
            n = len(vals)
            x = offsets[yi] + 2 * np.arange(n) + 1
            ax.bar(x, vals, width=1.8, bottom=bottoms[yr][:n], color=COLORS[key],
                   edgecolor="#8a8a8a", linewidth=0.25, zorder=2)
            bottoms[yr][:n] += vals
    for s in ax.spines.values():
        s.set_visible(False)
    ax.set_yticks(COUNT_TICKS[r])
    ax.set_yticklabels(COUNT_TICK_LABELS[r], fontsize=4.6, color=TICKC)
    ax.tick_params(axis="y", length=2, width=0.5, color="#aaaaaa", pad=1)
    if r == 4:
        pos, labs = [], []
        for yi, yr in enumerate(YEARS):
            wk = WEEK_TICKS_2022 if yr == 2022 else WEEK_TICKS
            for w in wk:
                pos.append(offsets[yi] + w - 0.5)
                labs.append(str(w))
        ax.set_xticks(pos)
        ax.set_xticklabels(labs, rotation=90, fontsize=4, color=TICKC)
        ax.tick_params(axis="x", length=2, width=0.4, color="#aaaaaa", pad=1,
                       bottom=True)
    else:
        ax.set_xticks([])

    # % flu line
    ax2 = ax.twinx()
    rows = []
    for yi, yr in enumerate(YEARS):
        for i, v in enumerate(REGION_PCT[r][yr]):
            rows.append({"x": offsets[yi] + 2 * i + 1, "pct": v, "year": yr})
    df = pd.DataFrame(rows)
    sns.lineplot(data=df, x="x", y="pct", units="year", estimator=None,
                 color=RED, lw=2.6, alpha=0.25, ax=ax2, legend=False)
    sns.lineplot(data=df, x="x", y="pct", units="year", estimator=None,
                 color=RED, lw=1.3, ax=ax2, legend=False)
    ax2.set_xlim(0, total_weeks)
    ax2.set_ylim(*PCT_LIMS[r])
    ax2.set_xlabel("")
    ax2.set_ylabel("")
    for s in ax2.spines.values():
        s.set_visible(False)
    ax2.set_yticks(PCT_TICKS)
    ax2.set_yticklabels(PCT_TICK_LABELS, fontsize=4.6, color=TICKC)
    ax2.tick_params(axis="y", length=2.5, width=0.5, color="#aaaaaa", pad=1)
    ax.set_xlabel("")

    # left labels
    cy = (top + bot) / 2
    fig.text(fx(45), fy(cy), REGION_NAMES[r], ha="center", va="center",
             fontsize=4.9, fontweight="bold", color=TXT, linespacing=1.5)
    fig.text(fx(90), fy(cy), "Number cases/ Numero\ncasos", ha="center",
             va="center", rotation=90, fontsize=4.6, color="#8a8a8a",
             linespacing=1.4)

# separators
for yp in ROW_EDGES:
    fig.add_artist(Line2D([fx(10), fx(903)], [fy(yp), fy(yp)],
                          color="#d6d6d6", lw=0.8))
for yi in range(len(YEARS) + 1):
    wpos = offsets[yi] if yi < len(YEARS) else total_weeks
    xp = wx(wpos)
    fig.add_artist(Line2D([fx(xp), fx(xp)], [fy(15), fy(427)],
                          color="#cfcfcf", lw=0.8))
# year header
for yi, lab in enumerate(YEAR_LABELS):
    cx = wx(offsets[yi] + WEEKS_IN_YEAR[yi] / 2)
    fig.text(fx(cx), fy(21.5), lab, ha="center", va="center", fontsize=5.3,
             fontweight="bold", color=TXT)

# notes
fig.text(fx(481), fy(435.5), "Please note that the flu (+) % line is computed with a 3 week average.",
         ha="center", va="center", fontsize=4.7, color=TXT)
fig.text(fx(481), fy(444), "Tenga en cuenta que la línea de % de flu (+) se calcula con un promedio de 3 semanas.",
         ha="center", va="center", fontsize=4.7, color=TXT)

# legend
fig.text(fx(478), fy(455), "Influenza viruses / Virus de la influenza",
         ha="center", va="center", fontsize=6.1, color=TXT)
leg_items = [(CATEGORIES[k], COLORS[CAT_KEYS[k]]) for k in range(len(CATEGORIES))]
leg_items.append(("% Flu (+)", RED))
for k, (lab, col) in enumerate(leg_items):
    yc = 468 + 14.7 * k
    fig.add_artist(Rectangle((fx(350), fy(yc + 5)), 10 / W, 10 / H,
                             facecolor=col, edgecolor="#9a9a9a", lw=0.5))
    fig.text(fx(364), fy(yc), lab, ha="left", va="center", fontsize=6.2,
             color="#444444")

fig.savefig("out.png", dpi=100, facecolor="white")
